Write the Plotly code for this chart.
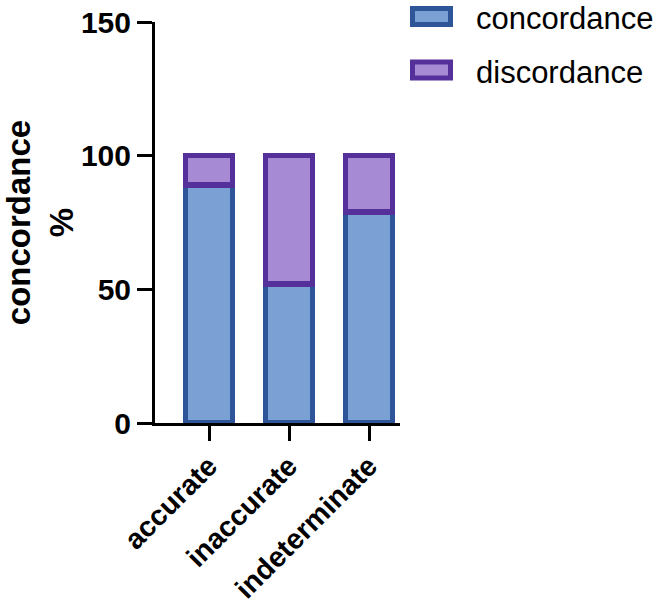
import plotly.graph_objects as go

categories = ["accurate", "inaccurate", "indeterminate"]
concordance = [89, 52, 79]
discordance = [11, 48, 21]
series_names = ["concordance", "discordance"]
y_ticks = [0, 50, 100, 150]

fill_colors = ["#7BA0D4", "#A68AD4"]
line_colors = ["#2D5597", "#55309A"]
FONT = "Arial, Liberation Sans, sans-serif"

fig = go.Figure()
for name, vals, fc, lc in zip(series_names, [concordance, discordance], fill_colors, line_colors):
    fig.add_trace(go.Bar(
        x=categories, y=vals, name=name, width=0.59,
        marker=dict(color=fc, line=dict(color=lc, width=5.5)),
        showlegend=False,
    ))

# manual legend (wide rectangles like the original)
L_W, L_H = 245.0, 401.0
def px_x(p):
    return (p - 155) / L_W
def px_y(p):
    return (423 - p) / L_H

legend_rows = [16.5, 70]
for name, fc, lc, cy in zip(series_names, fill_colors, line_colors, legend_rows):
    fig.add_shape(type="rect", xref="paper", yref="paper",
                  x0=px_x(412.5), x1=px_x(450.5), y0=px_y(cy - 8), y1=px_y(cy + 8),
                  fillcolor=fc, line=dict(color=lc, width=5))
    fig.add_annotation(xref="paper", yref="paper", x=px_x(474), y=px_y(cy + 2),
                       text=name, showarrow=False, xanchor="left", yanchor="middle",
                       font=dict(family=FONT, size=31, color="#000"))

fig.update_layout(
    barmode="stack",
    width=666, height=607,
    margin=dict(l=155, r=266, t=22, b=184, autoexpand=False),
    plot_bgcolor="white", paper_bgcolor="white",
    font=dict(family=FONT, color="black"),
)
fig.update_xaxes(
    range=[-0.675, 2.3875], showline=True, linecolor="black", linewidth=3,
    ticks="outside", ticklen=15, tickwidth=3, tickcolor="black",
    tickangle=-45, tickfont=dict(family=FONT, size=28.5, color="black", weight="bold"),
    ticklabelstandoff=-3,
    showgrid=False, zeroline=False, fixedrange=True, automargin=False,
)
fig.update_yaxes(
    range=[0, 150], tickvals=y_ticks, showline=True, linecolor="black", linewidth=3,
    ticks="outside", ticklen=15, tickwidth=3, tickcolor="black",
    tickfont=dict(family=FONT, size=30, color="black", weight="bold"),
    showgrid=False, zeroline=False, automargin=False, fixedrange=True,
    title=dict(text="<b>concordance</b><br><b>%</b>", font=dict(family=FONT, size=33, color="black"), standoff=24),
)

fig.write_html("out.html", config={"displayModeBar": False},
               post_script="document.body.style.margin='0';")
